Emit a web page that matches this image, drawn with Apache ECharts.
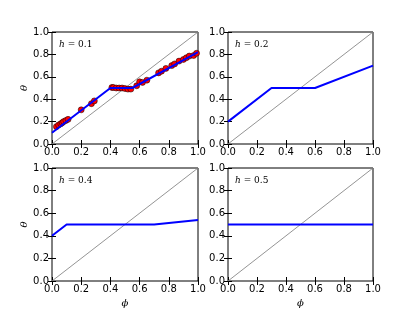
<!DOCTYPE html>
<html><head><meta charset="utf-8">
<script src="https://cdn.jsdelivr.net/npm/echarts@6/dist/echarts.min.js"></script>
<style>html,body{margin:0;padding:0;background:#fff}#c{width:415px;height:313px}</style>
</head><body><div id="c"></div>
<script>
// panel labels
const hLabels = ['0.1', '0.2', '0.4', '0.5'];
const tickLabels = ['0.0', '0.2', '0.4', '0.6', '0.8', '1.0'];
// blue curves (phi, theta) per panel
const phiLine01 = [0, 0.4, 0.55, 1];
const thetaLine01 = [0.1, 0.5, 0.5, 0.82];
const phiLine02 = [0, 0.3, 0.6, 1];
const thetaLine02 = [0.2, 0.5, 0.5, 0.7];
const phiLine04 = [0, 0.1, 0.7, 1];
const thetaLine04 = [0.4, 0.5, 0.5, 0.54];
const phiLine05 = [0, 1];
const thetaLine05 = [0.5, 0.5];
// diagonal reference
const phiDiag = [0, 1];
const thetaDiag = [0, 1];
// red sample points (h = 0.1)
const phiDots = [0.03, 0.045, 0.06, 0.07, 0.08, 0.095, 0.11, 0.2, 0.27, 0.29,
  0.41, 0.42, 0.44, 0.46, 0.48, 0.5, 0.52, 0.54, 0.58, 0.6, 0.62, 0.65,
  0.73, 0.75, 0.78, 0.82, 0.84, 0.87, 0.9, 0.92, 0.94, 0.97, 0.99];
const thetaDots = [0.155, 0.17, 0.18, 0.19, 0.2, 0.21, 0.22, 0.305, 0.36, 0.385,
  0.505, 0.505, 0.5, 0.5, 0.5, 0.495, 0.49, 0.49, 0.52, 0.555, 0.55, 0.57,
  0.635, 0.65, 0.675, 0.7, 0.715, 0.74, 0.755, 0.77, 0.785, 0.79, 0.81];

const zip = (a, b) => a.map((v, i) => [v, b[i]]);
const lines = [
  zip(phiLine01, thetaLine01), zip(phiLine02, thetaLine02),
  zip(phiLine04, thetaLine04), zip(phiLine05, thetaLine05)
];
const grids = [
  {left: 52, top: 32, width: 146, height: 112},
  {left: 228, top: 32, width: 145, height: 112},
  {left: 52, top: 168, width: 146, height: 113},
  {left: 228, top: 168, width: 145, height: 113}
];
const fam = 'DejaVu Sans';
const xAxes = [], yAxes = [], series = [], titles = [];
grids.forEach((g, i) => {
  g.show = true; g.borderColor = '#000'; g.borderWidth = 1; g.containLabel = false;
  const bottomRow = i >= 2, leftCol = i % 2 === 0;
  const base = {
    type: 'value', min: 0, max: 1, interval: 0.2, gridIndex: i,
    axisLine: {show: false}, splitLine: {show: false},
    axisTick: {show: true, inside: true, length: 4, lineStyle: {color: '#000', width: 1}}
  };
  xAxes.push(Object.assign({}, base, {
    position: 'bottom',
    axisLabel: {show: true, color: '#000', fontFamily: fam, fontSize: 10, margin: 3,
      formatter: v => tickLabels[Math.round(v * 5)]},
    name: bottomRow ? 'ϕ' : '', nameLocation: 'middle', nameGap: 17,
    nameTextStyle: {fontFamily: 'DejaVu Serif', fontStyle: 'italic', fontSize: 10, color: '#000'}
  }));
  xAxes.push(Object.assign({}, base, {position: 'top', axisLabel: {show: false}}));
  yAxes.push(Object.assign({}, base, {
    position: 'left',
    axisLabel: {show: true, color: '#000', fontFamily: fam, fontSize: 10, margin: 3,
      formatter: v => tickLabels[Math.round(v * 5)]},
    name: leftCol ? 'θ' : '', nameLocation: 'middle', nameGap: 21, nameRotate: 90,
    nameTextStyle: {fontFamily: 'DejaVu Serif', fontStyle: 'italic', fontSize: 10, color: '#000'}
  }));
  yAxes.push(Object.assign({}, base, {position: 'right', axisLabel: {show: false}}));
  series.push({
    type: 'line', xAxisIndex: 2 * i, yAxisIndex: 2 * i, data: zip(phiDiag, thetaDiag),
    showSymbol: false, lineStyle: {color: '#888888', width: 0.9}, z: 2, silent: true
  });
  if (i === 0) {
    series.push({
      type: 'scatter', xAxisIndex: 0, yAxisIndex: 0, data: zip(phiDots, thetaDots),
      symbolSize: 6, itemStyle: {color: '#ff0000', borderColor: '#000', borderWidth: 0.5, opacity: 1}, z: 3
    });
  }
  series.push({
    type: 'line', xAxisIndex: 2 * i, yAxisIndex: 2 * i, data: lines[i],
    showSymbol: false, lineStyle: {color: '#0000ff', width: 2}, z: 4, silent: true
  });
  titles.push({
    text: '{i|h} = ' + hLabels[i], left: g.left + 2, top: g.top + 3,
    textStyle: {fontFamily: 'DejaVu Serif', fontSize: 9, fontWeight: 'normal', color: '#000',
      rich: {i: {fontFamily: 'DejaVu Serif', fontStyle: 'italic', fontSize: 9, color: '#000'}}}
  });
});
const chart = echarts.init(document.getElementById('c'), null, {renderer: 'canvas'});
chart.setOption({
  animation: false, backgroundColor: '#fff',
  title: titles, grid: grids, xAxis: xAxes, yAxis: yAxes, series: series
});
</script></body></html>
